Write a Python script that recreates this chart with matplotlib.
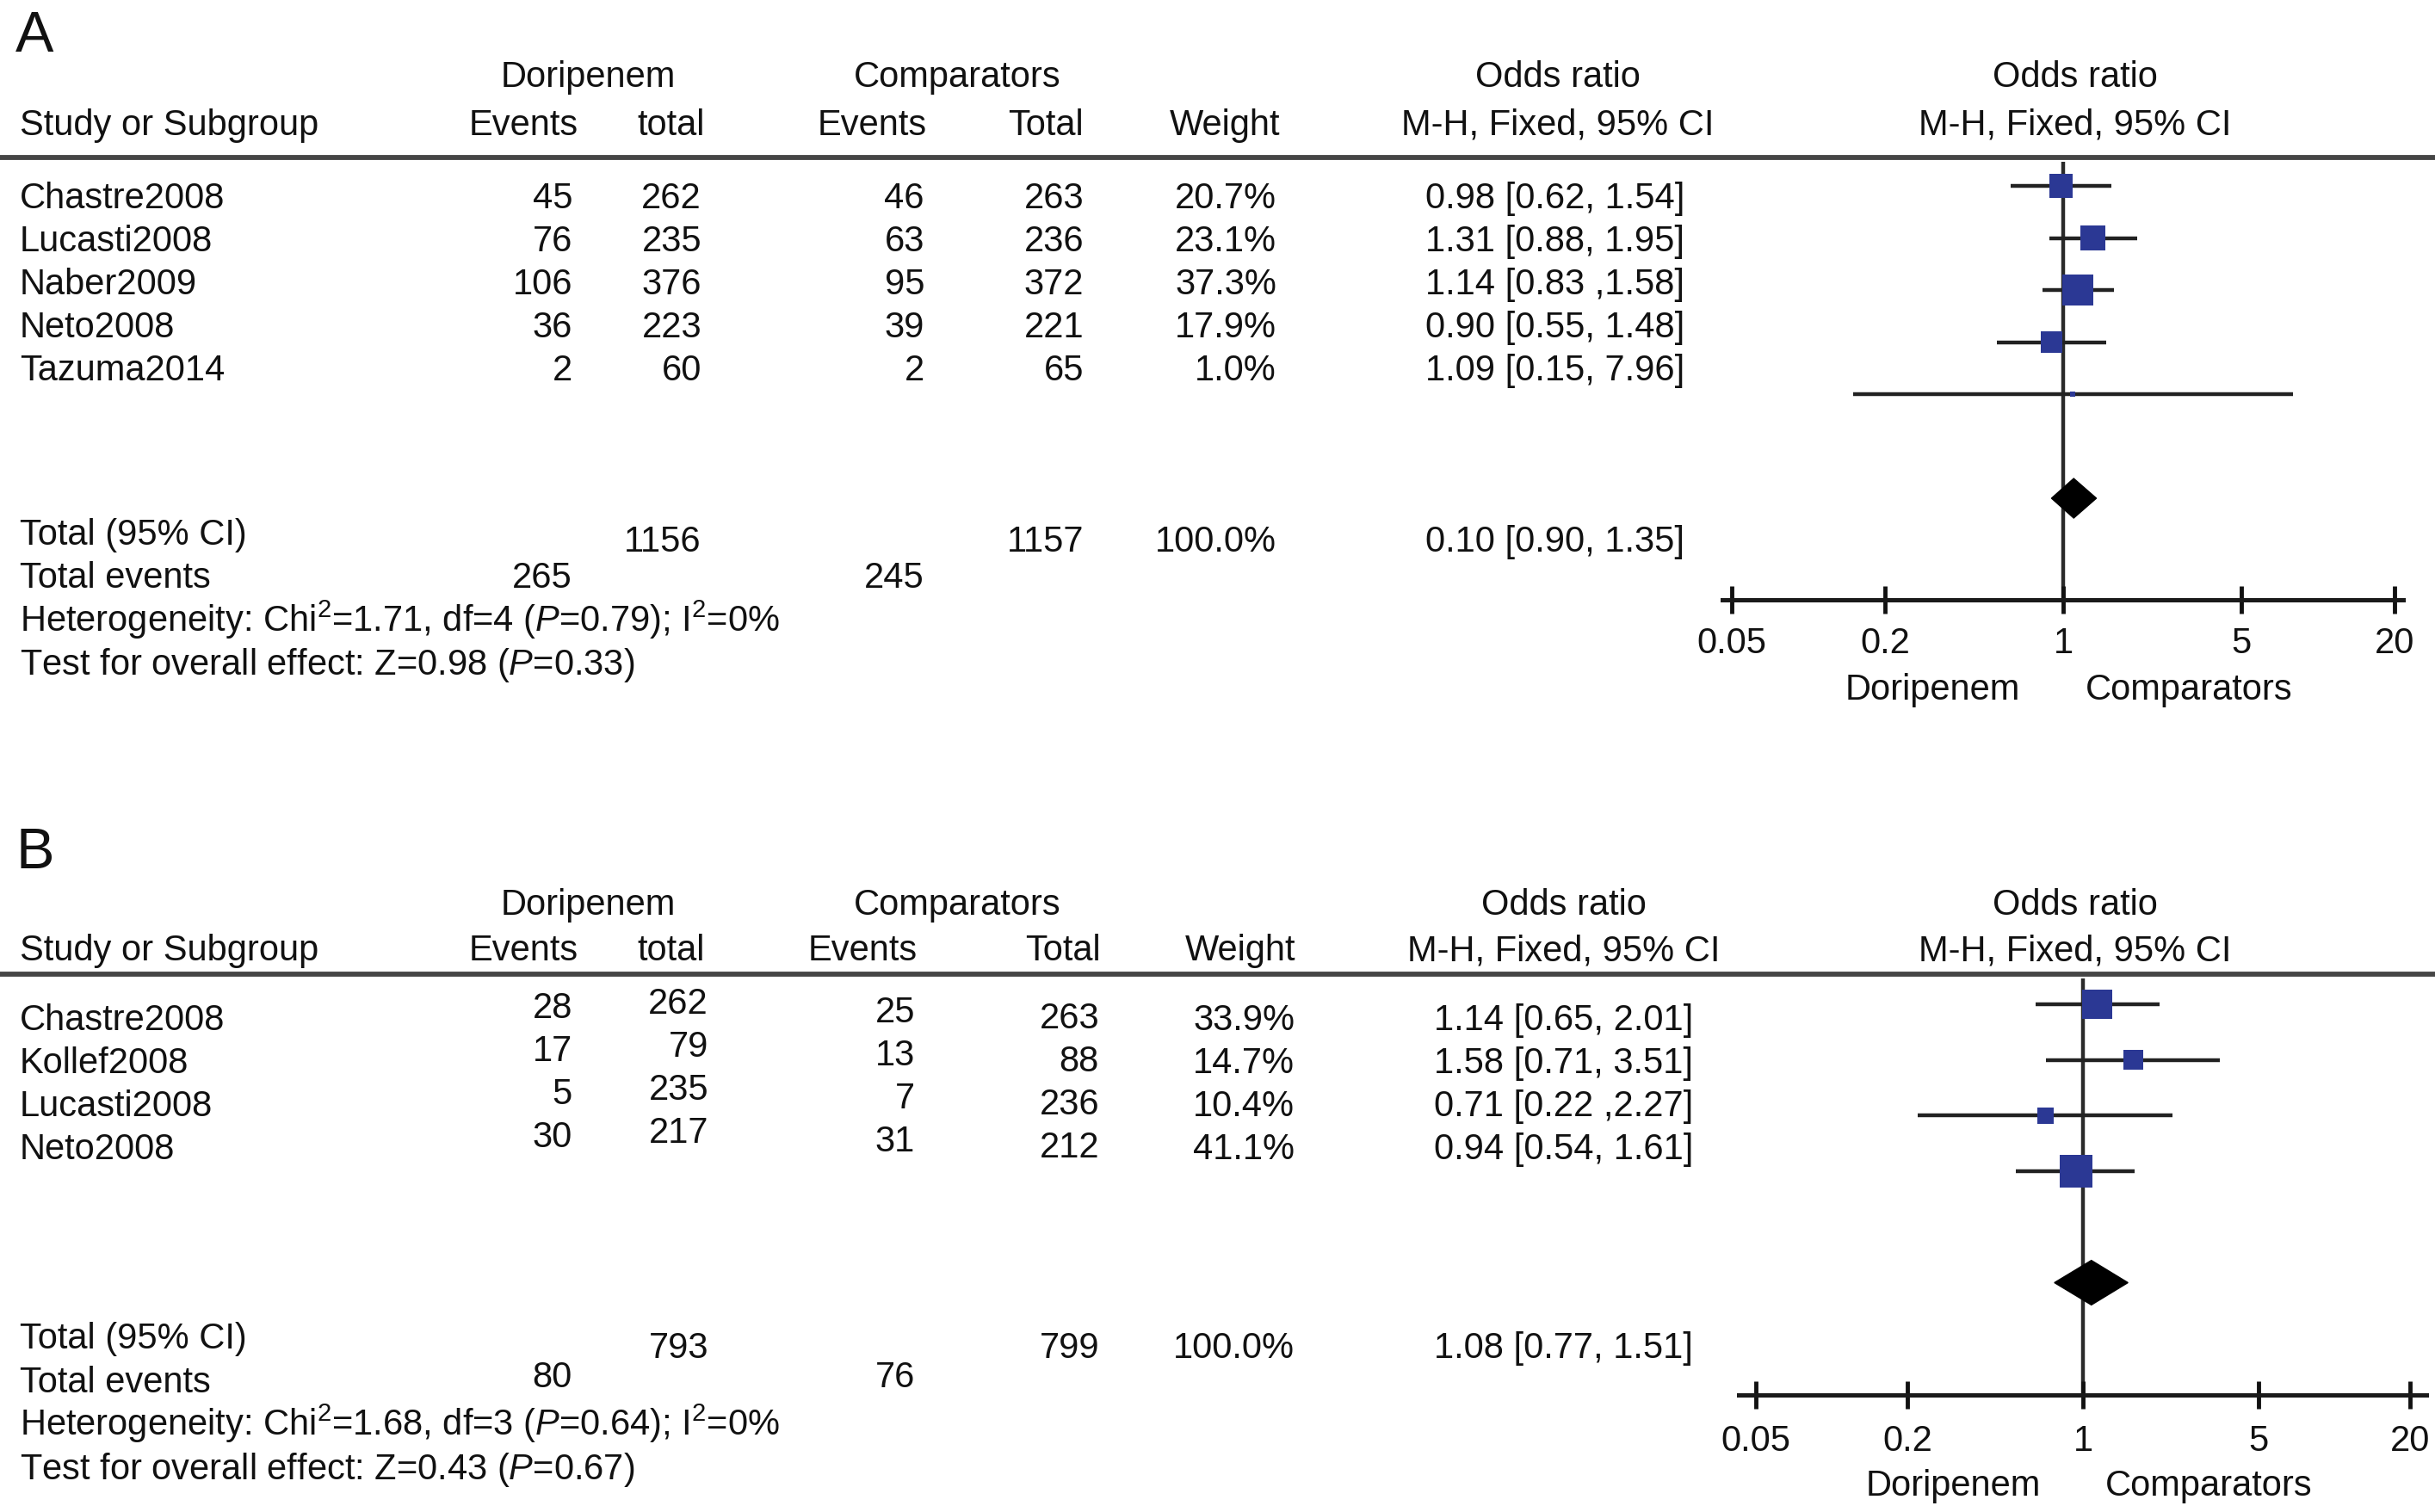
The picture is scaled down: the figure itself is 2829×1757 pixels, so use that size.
import numpy as np
import matplotlib
matplotlib.use('Agg')
import matplotlib.pyplot as plt
from matplotlib.ticker import NullLocator

plt.rcParams['font.family'] = ['Liberation Sans', 'DejaVu Sans']
plt.rcParams['mathtext.fontset'] = 'custom'
plt.rcParams['mathtext.rm'] = 'Liberation Sans'
plt.rcParams['mathtext.it'] = 'Liberation Sans:italic'

W, H = 2829, 1757
FS = 30
BLUE = '#2b3894'
INK = '#111111'

# ---- panel A data
studies_a = ['Chastre2008', 'Lucasti2008', 'Naber2009', 'Neto2008', 'Tazuma2014']
dori_ev_a = [45, 76, 106, 36, 2]
dori_n_a = [262, 235, 376, 223, 60]
comp_ev_a = [46, 63, 95, 39, 2]
comp_n_a = [263, 236, 372, 221, 65]
weight_a = [20.7, 23.1, 37.3, 17.9, 1.0]
or_a = [0.98, 1.31, 1.14, 0.90, 1.09]
lo_a = [0.62, 0.88, 0.83, 0.55, 0.15]
hi_a = [1.54, 1.95, 1.58, 1.48, 7.96]
ci_lab_a = ['0.98 [0.62, 1.54]', '1.31 [0.88, 1.95]', '1.14 [0.83 ,1.58]',
            '0.90 [0.55, 1.48]', '1.09 [0.15, 7.96]']
pooled_a = [1.10, 0.90, 1.35]
pooled_lab_a = '0.10 [0.90, 1.35]'
tot_a = [1156, 1157]
tot_ev_a = [265, 245]
het_a = 'Heterogeneity: Chi$^2$=1.71, df=4 ($\\mathit{P}$=0.79); I$^2$=0%'
eff_a = 'Test for overall effect: Z=0.98 ($\\mathit{P}$=0.33)'

# ---- panel B data
studies_b = ['Chastre2008', 'Kollef2008', 'Lucasti2008', 'Neto2008']
dori_ev_b = [28, 17, 5, 30]
dori_n_b = [262, 79, 235, 217]
comp_ev_b = [25, 13, 7, 31]
comp_n_b = [263, 88, 236, 212]
weight_b = [33.9, 14.7, 10.4, 41.1]
or_b = [1.14, 1.58, 0.71, 0.94]
lo_b = [0.65, 0.71, 0.22, 0.54]
hi_b = [2.01, 3.51, 2.27, 1.61]
ci_lab_b = ['1.14 [0.65, 2.01]', '1.58 [0.71, 3.51]', '0.71 [0.22 ,2.27]',
            '0.94 [0.54, 1.61]']
pooled_b = [1.08, 0.77, 1.51]
pooled_lab_b = '1.08 [0.77, 1.51]'
tot_b = [793, 799]
tot_ev_b = [80, 76]
het_b = 'Heterogeneity: Chi$^2$=1.68, df=3 ($\\mathit{P}$=0.64); I$^2$=0%'
eff_b = 'Test for overall effect: Z=0.43 ($\\mathit{P}$=0.67)'

ticks = [0.05, 0.2, 1, 5, 20]
tick_labels = ['0.05', '0.2', '1', '5', '20']

fig = plt.figure(figsize=(W / 100, H / 100), dpi=100)
bg = fig.add_axes([0, 0, 1, 1])
bg.set_xlim(0, W)
bg.set_ylim(H, 0)
bg.axis('off')


def txt(x, y, s, ha='left', size=FS):
    bg.text(x, y, s, ha=ha, va='baseline', fontsize=size, color=INK)


def table(y0, letter, hdr, cols, studies, dev, dn, cev, cn, wt, cil, tots, tevs, plab,
          het, eff, offs, tot_y):
    txt(18, y0 - 183 + 60, letter, size=48)
    l1, l2 = hdr['y']
    txt(683, l1, 'Doripenem', 'center')
    txt(1112, l1, 'Comparators', 'center')
    txt(hdr['or'], l1, 'Odds ratio', 'center')
    txt(2411, l1, 'Odds ratio', 'center')
    txt(23, l2, 'Study or Subgroup')
    txt(608, l2, 'Events', 'center')
    txt(780, l2, 'total', 'center')
    txt(hdr['ev2'], l2, 'Events', 'center')
    txt(hdr['tot2'], l2, 'Total', 'center')
    txt(hdr['wt'], l2, 'Weight', 'center')
    txt(hdr['or'], l2, 'M-H, Fixed, 95% CI', 'center')
    txt(2411, l2, 'M-H, Fixed, 95% CI', 'center')
    bg.plot([0, W], [y0, y0], color='#454545', lw=4.2, solid_capstyle='butt')

    xe, xn, xce, xcn, xw, xci = cols
    ys = offs['row0']
    for i, name in enumerate(studies):
        b = ys + 50 * i
        txt(23, b + offs['name'], name)
        txt(xe, b + offs['ev'], str(dev[i]), 'right')
        txt(xn, b + offs['n'], str(dn[i]), 'right')
        txt(xce, b + offs['cev'], str(cev[i]), 'right')
        txt(xcn, b + offs['cn'], str(cn[i]), 'right')
        txt(xw, b + offs['name'], '%.1f%%' % wt[i], 'right')
        txt(xci, b + offs['name'], cil[i], 'right')

    t1, t2, t3, t4, t5 = tot_y
    txt(23, t1, 'Total (95% CI)')
    txt(xn, t2, str(tots[0]), 'right')
    txt(xcn, t2, str(tots[1]), 'right')
    txt(xw, t2, '100.0%', 'right')
    txt(xci, t2, plab, 'right')
    txt(23, t3, 'Total events')
    txt(xe, t3 + offs['tev'], str(tevs[0]), 'right')
    txt(xce, t3 + offs['tev'], str(tevs[1]), 'right')
    txt(23, t4, het)
    txt(23, t5, eff)


def forest(left, right, top, bottom, x_one, per_dec, row0, pitch, ors, lo, hi, wt,
           pooled, dia_h, pad, word_y, word_x):
    ax = fig.add_axes([left / W, 1 - bottom / H, (right - left) / W, (bottom - top) / H])
    ax.set_xscale('log')
    ax.set_xlim(10 ** ((left - x_one) / per_dec), 10 ** ((right - x_one) / per_dec))
    y_bot = (bottom - row0) / pitch
    y_top = (top - row0) / pitch
    ax.set_ylim(y_bot, y_top)
    ax.patch.set_alpha(0)
    rows = np.arange(len(ors))
    n = len(ors)
    ax.vlines(1, y_bot, y_top + 0.08, color='#2a2a2a', lw=3.2, zorder=1)
    ax.hlines(rows, lo, hi, color='#222222', lw=3.2, zorder=2)
    ax.scatter(ors, rows, marker='s', s=18.66 * np.array(wt), color=BLUE,
               edgecolors='none', zorder=3)
    d = n + 1
    ax.fill([pooled[1], pooled[0], pooled[2], pooled[0]],
            [d, d - dia_h, d, d + dia_h], color='black', zorder=3)
    for s in ['top', 'left', 'right']:
        ax.spines[s].set_visible(False)
    ax.spines['bottom'].set_linewidth(3.6)
    ax.spines['bottom'].set_color('#1a1a1a')
    ax.set_xticks(ticks)
    ax.set_xticklabels(tick_labels)
    ax.xaxis.set_minor_locator(NullLocator())
    ax.set_yticks([])
    ax.tick_params(axis='x', direction='inout', length=23, width=3.5, color='#111111',
                   labelsize=FS, pad=pad, labelcolor=INK)
    txt(word_x[0], word_y, 'Doripenem', 'center')
    txt(word_x[1], word_y, 'Comparators', 'center')


# panel A
table(183, 'A', {'y': (101, 157), 'or': 1810, 'ev2': 1013, 'tot2': 1215, 'wt': 1423},
      (665, 815, 1074, 1259, 1483, 1957),
      studies_a, dori_ev_a, dori_n_a, comp_ev_a, comp_n_a, weight_a, ci_lab_a,
      tot_a, tot_ev_a, pooled_lab_a, het_a, eff_a,
      {'row0': 242, 'name': 0, 'ev': 0, 'n': 0, 'cev': 0, 'cn': 0, 'tev': 0},
      (633, 641, 683, 734, 784))
forest(2001, 2792, 183, 697, 2397, 296, 216, 60.5, or_a, lo_a, hi_a, weight_a,
       pooled_a, 0.38, 10.5, 813, (2245, 2543))

# panel B
table(1132, 'B', {'y': (1063, 1116), 'or': 1817, 'ev2': 1002, 'tot2': 1235, 'wt': 1441},
      (665, 823, 1063, 1277, 1504, 1967),
      studies_b, dori_ev_b, dori_n_b, comp_ev_b, comp_n_b, weight_b, ci_lab_b,
      tot_b, tot_ev_b, pooled_lab_b, het_b, eff_b,
      {'row0': 1183, 'name': 14, 'ev': 0, 'n': -5, 'cev': 5, 'cn': 12, 'tev': -6},
      (1567, 1578, 1618, 1668, 1719))
forest(2020, 2819, 1132, 1621, 2420, 292, 1167, 64.7, or_b, lo_b, hi_b, weight_b,
       pooled_b, 0.40, 13, 1738, (2269, 2566))

fig.savefig('out.png', dpi=100)
